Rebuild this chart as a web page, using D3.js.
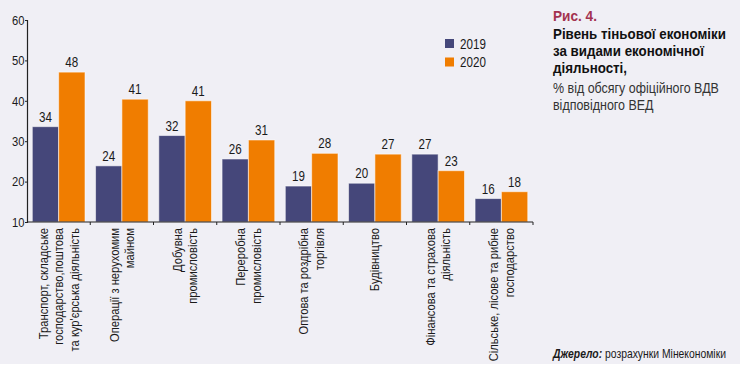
<!DOCTYPE html>
<html>
<head>
<meta charset="utf-8">
<script src="https://cdn.jsdelivr.net/npm/d3@7"></script>
<style>
body { margin: 0; background: #fff; }
svg { display: block; font-family: "Liberation Sans", Arial, sans-serif; }
</style>
</head>
<body>
<script>
var width = 740, height = 369;

// categories (line breaks as in the picture)
var categories = [
	["Транспорт, складське", "господарство,поштова", "та кур'єрська діяльність"],
	["Операції з нерухомим", "майном"],
	["Добувна", "промисловість"],
	["Переробна", "промисловість"],
	["Оптова та роздрібна", "торгівля"],
	["Будівництво"],
	["Фінансова та страхова", "діяльність"],
	["Сільське, лісове та рибне", "господарство"]
];
var years = ["2019", "2020"];
// bar heights as drawn
var values2019 = [33.6, 23.9, 31.4, 25.6, 18.9, 19.6, 26.8, 15.8];
var values2020 = [47.1, 40.4, 40.0, 30.3, 27.0, 26.8, 22.7, 17.5];
// printed labels
var labels2019 = ["34", "24", "32", "26", "19", "20", "27", "16"];
var labels2020 = ["48", "41", "41", "31", "28", "27", "23", "18"];
var yTicks = [10, 20, 30, 40, 50, 60];

var colors = { "2019": "#45477a", "2020": "#f07d00" };

// no condensed face installed, so squeeze text horizontally
var squeeze = 0.83;

function txt(parent, x, y, s, size, rot, sq) {
	return parent.append("text")
		.attr("transform", "translate(" + x + "," + y + ")" + (rot ? " rotate(" + rot + ")" : "") + " scale(" + (sq || squeeze) + ",1)")
		.attr("font-size", size)
		.attr("fill", "#1a1a1a")
		.text(s);
}

var svg = d3.select("body").append("svg")
	.attr("width", width)
	.attr("height", height);

svg.append("rect")
	.attr("width", width)
	.attr("height", 364)
	.attr("fill", "#f0eff5");

var plotLeft = 27, plotRight = 533, plotTop = 20, plotBottom = 222;

var y = d3.scaleLinear().domain([10, 60]).range([plotBottom, plotTop]);
var x0 = d3.scaleBand().domain(d3.range(categories.length)).range([plotLeft, plotRight]);
var x1 = d3.scaleBand().domain(years).range([5.3, 58]);

var data = categories.map(function (c, i) {
	return {
		i: i,
		bars: [
			{ year: "2019", v: values2019[i], label: labels2019[i] },
			{ year: "2020", v: values2020[i], label: labels2020[i] }
		]
	};
});

var groups = svg.append("g").selectAll("g")
	.data(data)
	.enter()
	.append("g")
	.attr("transform", function (d) { return "translate(" + x0(d.i) + ",0)"; });

groups.selectAll("rect")
	.data(function (d) { return d.bars; })
	.enter()
	.append("rect")
	.attr("x", function (d) { return x1(d.year); })
	.attr("y", function (d) { return y(d.v); })
	.attr("width", x1.bandwidth())
	.attr("height", function (d) { return plotBottom - y(d.v); })
	.attr("fill", function (d) { return colors[d.year]; })
	.attr("stroke", "#ffffff")
	.attr("stroke-opacity", 0.55)
	.attr("stroke-width", 1);

groups.each(function (d) {
	var g = d3.select(this);
	d.bars.forEach(function (b) {
		txt(g, x1(b.year) + x1.bandwidth() / 2, y(b.v) - 5, b.label, 14)
			.attr("text-anchor", "middle");
	});
});

// y axis
var yAxis = svg.append("g")
	.attr("transform", "translate(" + plotLeft + ",0)")
	.call(d3.axisLeft(y).tickValues(yTicks).tickSize(2).tickPadding(1));
yAxis.select(".domain").attr("stroke", "#222").attr("stroke-width", 1.2);
yAxis.selectAll(".tick line").attr("stroke", "#222");
yAxis.selectAll("text")
	.attr("font-size", 13.5)
	.attr("fill", "#1a1a1a")
	.attr("transform", "scale(" + squeeze + ",1)")
	.style("font-family", "inherit");

// x axis line with ticks between groups
svg.append("line")
	.attr("x1", plotLeft).attr("x2", plotRight)
	.attr("y1", plotBottom).attr("y2", plotBottom)
	.attr("stroke", "#222").attr("stroke-width", 1.2);
svg.append("g").selectAll("line")
	.data(d3.range(1, categories.length + 1))
	.enter()
	.append("line")
	.attr("x1", function (i) { return plotLeft + i * x0.step(); })
	.attr("x2", function (i) { return plotLeft + i * x0.step(); })
	.attr("y1", plotBottom).attr("y2", plotBottom + 3)
	.attr("stroke", "#222");

// category labels, rotated
var lineGap = 15.5;
groups.each(function (d) {
	var lines = categories[d.i];
	var cx = x0.bandwidth() / 2;
	var g = d3.select(this);
	lines.forEach(function (t, k) {
		var off = (k - (lines.length - 1) / 2) * lineGap;
		txt(g, cx + off + 4.5, plotBottom + 6, t, 13, -90, 0.86)
			.attr("text-anchor", "end");
	});
});

// legend
var legend = svg.append("g").selectAll("g")
	.data(years)
	.enter()
	.append("g")
	.attr("transform", function (d, i) { return "translate(445," + (39 + i * 18.5) + ")"; });
legend.append("rect")
	.attr("width", 9).attr("height", 9)
	.attr("fill", function (d) { return colors[d]; });
legend.each(function (d) {
	txt(d3.select(this), 15, 9.5, d, 14);
});

// title block
var title = svg.append("g").attr("transform", "translate(553,0)");
txt(title, 0, 21, "Рис. 4.", 15.5, 0, 0.88)
	.attr("font-weight", "bold")
	.attr("fill", "#a3324f");
["Рівень тіньової економіки", "за видами економічної", "діяльності,"].forEach(function (t, k) {
	txt(title, 0, 39 + k * 17, t, 15, 0, 0.89)
		.attr("font-weight", "bold")
		.attr("fill", "#111");
});
["% від обсягу офіційного ВДВ", "відповідного ВЕД"].forEach(function (t, k) {
	txt(title, 0, 92.5 + k * 17.5, t, 14.5, 0, 0.86)
		.attr("fill", "#333");
});

// source
var src = txt(svg, 726, 358, null, 12.5)
	.attr("text-anchor", "end");
src.append("tspan").attr("font-weight", "bold").attr("font-style", "italic").text("Джерело:");
src.append("tspan").text(" розрахунки Мінекономіки");
</script>
</body>
</html>
